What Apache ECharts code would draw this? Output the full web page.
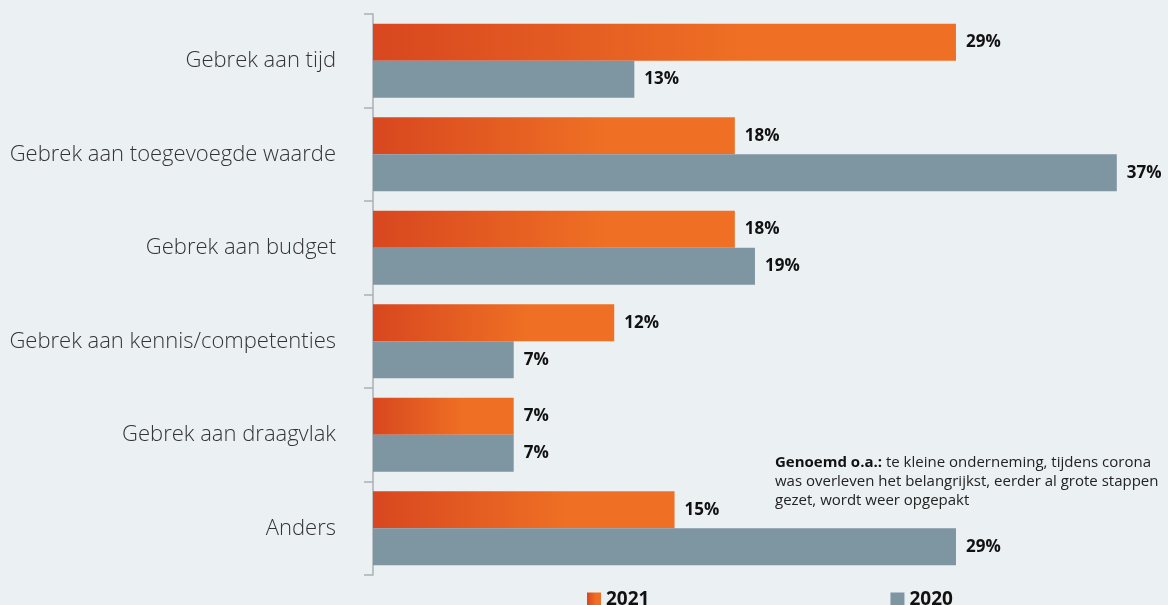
<!DOCTYPE html>
<html>
<head>
<meta charset="utf-8">
<script src="https://cdn.jsdelivr.net/npm/echarts@6/dist/echarts.min.js"></script>
<style>
  html, body { margin: 0; padding: 0; background: #ebf0f3; }
  #chart { width: 1168px; height: 605px; }
</style>
</head>
<body>
<div id="chart"></div>
<script>
// Redenen om niet te investeren, 2021 vs 2020 (in %)
const categories = [
  'Gebrek aan tijd',
  'Gebrek aan toegevoegde waarde',
  'Gebrek aan budget',
  'Gebrek aan kennis/competenties',
  'Gebrek aan draagvlak',
  'Anders'
];
const values2021 = [29, 18, 18, 12, 7, 15];
const values2020 = [13, 37, 19, 7, 7, 29];
const seriesNames = ['2021', '2020'];

const chart = echarts.init(document.getElementById('chart'));

const orangeFill = new echarts.graphic.LinearGradient(0, 0, 1, 0, [
  { offset: 0, color: '#d8471f' },
  { offset: 0.65, color: '#ef7024' },
  { offset: 1, color: '#ef7024' }
]);

const valueLabel = {
  show: true,
  position: 'right',
  distance: 10,
  formatter: '{c}%',
  color: '#111',
  fontFamily: 'Open Sans',
  fontWeight: 'bold',
  fontSize: 17
};

chart.setOption({
  backgroundColor: '#ebf0f3',
  animation: false,
  grid: { left: 373, right: 11, top: 14, bottom: 30, containLabel: false },
  xAxis: {
    type: 'value',
    min: 0,
    max: 39,
    show: false
  },
  yAxis: {
    type: 'category',
    data: categories,
    inverse: true,
    axisLine: { show: true, lineStyle: { color: '#aab0b4', width: 1.5 } },
    axisTick: { show: true, length: 9, lineStyle: { color: '#aab0b4', width: 1.5 } },
    axisLabel: {
      margin: 37,
      color: '#333',
      fontFamily: 'Open Sans',
      fontWeight: 300,
      fontSize: 22,
      padding: [4, 0, 0, 0]
    },
    splitLine: { show: false }
  },
  legend: {
    data: seriesNames,
    bottom: -9,
    left: 582,
    itemWidth: 14,
    itemHeight: 14,
    itemGap: 241,
    icon: 'rect',
    textStyle: { color: '#111', fontFamily: 'Open Sans', fontWeight: 'bold', fontSize: 19 }
  },
  graphic: [{
    type: 'text',
    left: 775,
    top: 453,
    style: {
      text: '{b|Genoemd o.a.:} te kleine onderneming, tijdens corona\nwas overleven het belangrijkst, eerder al grote stappen\ngezet, wordt weer opgepakt',
      fill: '#222',
      fontFamily: 'Open Sans',
      fontSize: 15,
      lineHeight: 19,
      rich: {
        b: { fontWeight: 'bold', fontFamily: 'Open Sans', fontSize: 15, fill: '#111', lineHeight: 19 }
      }
    }
  }],
  series: [
    {
      name: seriesNames[0],
      type: 'bar',
      data: values2021,
      barGap: '0%',
      barCategoryGap: '21%',
      itemStyle: { color: orangeFill },
      label: valueLabel
    },
    {
      name: seriesNames[1],
      type: 'bar',
      data: values2020,
      barGap: '0%',
      barCategoryGap: '21%',
      itemStyle: { color: '#7e95a2' },
      label: valueLabel
    }
  ]
});
</script>
</body>
</html>
